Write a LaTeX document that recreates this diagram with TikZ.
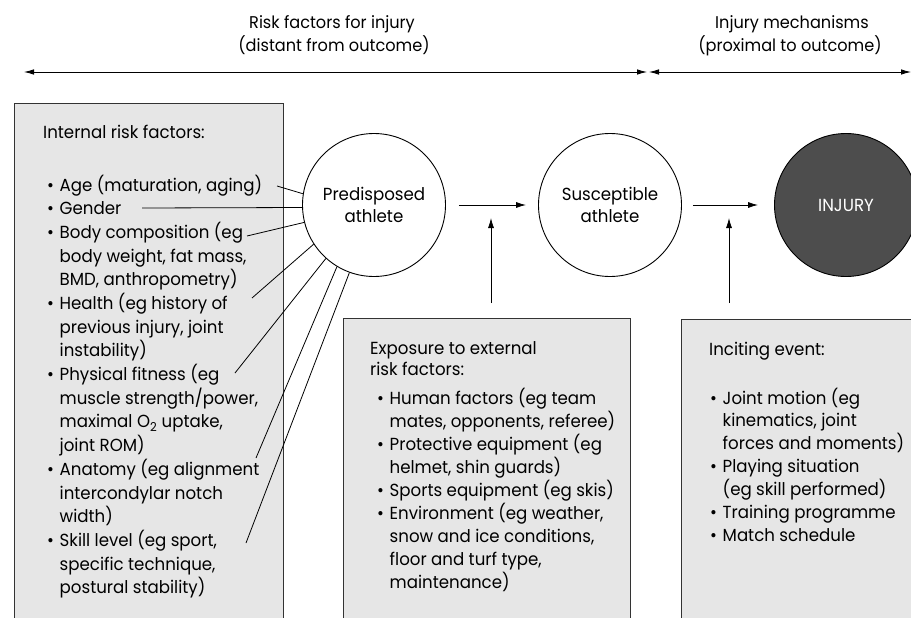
\documentclass[tikz,border=0pt]{standalone}
\usepackage{fontspec}
\setmainfont{Poppins}[FakeStretch=0.95]
\usetikzlibrary{arrows.meta,calc}
\definecolor{boxgray}{HTML}{E6E6E6}
\definecolor{injgray}{HTML}{4D4D4D}
\definecolor{edgegray}{HTML}{333333}
\newcommand{\bul}{\makebox[12.5pt][l]{\textbullet}}
\newcommand{\ind}{\hspace*{12.5pt}}
\newcommand{\lst}[2]{{\fontsize{17.5}{#1}\selectfont\begin{tabular}[t]{@{}l@{}}#2\end{tabular}}}
\begin{document}
\begin{tikzpicture}[x=1pt,y=-1pt,
  txt/.style={font=\fontsize{17.5}{23.5}\selectfont, inner sep=0pt, anchor=base west},
  hdr/.style={font=\fontsize{17}{21}\selectfont, inner sep=0pt, anchor=base},
  graybox/.style={draw=edgegray, line width=1.2pt, fill=boxgray, anchor=north west, inner sep=0pt},
  athlete/.style={circle, draw, line width=0.9pt, minimum size=143pt, inner sep=0pt, font=\fontsize{17.5}{22}\selectfont, align=center},
  conn/.style={line width=0.8pt},
  arr/.style={line width=0.8pt, -{Latex[length=10pt,width=6pt]}},
  harr/.style={line width=0.8pt, {Latex[length=10pt,width=5.5pt]}-{Latex[length=10pt,width=5.5pt]}}
]
\useasboundingbox (0,0) rectangle (911,618);
\clip (0,0) rectangle (911,618);

% header
\node[hdr] (h1a) at (332,29) {Risk factors for injury};
\node[hdr] (h1b) at (334,52) {(distant from outcome)};
\node[hdr] (h2a) at (792,29) {Injury mechanisms};
\node[hdr] (h2b) at (790,52) {(proximal to outcome)};
\coordinate (hl) at (24,72);
\coordinate (hm1) at (647,72);
\coordinate (hm2) at (649,72);
\coordinate (hr) at (911,72);
\draw[harr] (hl) -- (hm1);
\draw[harr] (hm2) -- (hr);

% boxes
\node[graybox, minimum width=269pt, minimum height=560pt] (intbox) at (14,103) {};
\node[graybox, minimum width=287pt, minimum height=340pt] (extbox) at (343,318) {};
\node[graybox, minimum width=260pt, minimum height=340pt] (incbox) at (681,319) {};

% circles
\node[athlete] (pre) at (374,205) {Predisposed\\athlete};
\node[athlete] (sus) at (610,205) {Susceptible\\athlete};
\node[athlete, fill=injgray, text=white] (inj) at (846,205) {INJURY};

% internal text
\node[txt] (intt) at (43,138) {Internal risk factors:};
\node[txt] (intl) at (47,191) {\lst{23.7}{\bul Age (maturation, aging)\\
\bul Gender\\
\bul Body composition (eg\\
\ind body weight, fat mass,\\
\ind BMD, anthropometry)\\
\bul Health (eg history of\\
\ind previous injury, joint\\
\ind instability)\\
\bul Physical fitness (eg\\
\ind muscle strength/power,\\
\ind maximal O\textsubscript{2} uptake,\\
\ind joint ROM)\\
\bul Anatomy (eg alignment\\
\ind intercondylar notch\\
\ind width)\\
\bul Skill level (eg sport,\\
\ind specific technique,\\
\ind postural stability)}};

% external text
\node[txt] (extt) at (370,354) {\lst{21}{Exposure to external\\risk factors:}};
\node[txt] (extl) at (377,404) {\lst{22.8}{\bul Human factors (eg team\\
\ind mates, opponents, referee)\\
\bul Protective equipment (eg\\
\ind helmet, shin guards)\\
\bul Sports equipment (eg skis)\\
\bul Environment (eg weather,\\
\ind snow and ice conditions,\\
\ind floor and turf type,\\
\ind maintenance)}};

% inciting text
\node[txt] (inct) at (709,355) {Inciting event:};
\node[txt] (incl) at (710,404) {\lst{22.8}{\bul Joint motion (eg\\
\ind kinematics, joint\\
\ind forces and moments)\\
\bul Playing situation\\
\ind (eg skill performed)\\
\bul Training programme\\
\bul Match schedule}};

% connectors from internal factors
\coordinate (fAge) at (277,186);
\coordinate (fGen) at (142,208);
\coordinate (fBody) at (247,236);
\coordinate (fHealth) at (252,298);
\coordinate (fPhys) at (235,373);
\coordinate (fAnat) at (256,458);
\coordinate (fSkill) at (246,543);
\draw[conn] (fAge) -- (pre.171);
\draw[conn] (fGen) -- (pre.182);
\draw[conn] (fBody) -- (pre.194);
\draw[conn] (fHealth) -- (pre.213);
\draw[conn] (fPhys) -- (pre.228);
\draw[conn] (fAnat) -- (pre.239);
\draw[conn] (fSkill) -- (pre.250);

% main arrows
\draw[arr, shorten <=13pt, shorten >=12pt] (pre) -- (sus);
\draw[arr, shorten <=11pt, shorten >=16pt] (sus) -- (inj);
\coordinate (e1) at (491,218);
\coordinate (e2) at (729,218);
\draw[arr, shorten <=15pt] (extbox.north -| e1) -- (e1);
\draw[arr, shorten <=16pt] (incbox.north -| e2) -- (e2);
\end{tikzpicture}
\end{document}
